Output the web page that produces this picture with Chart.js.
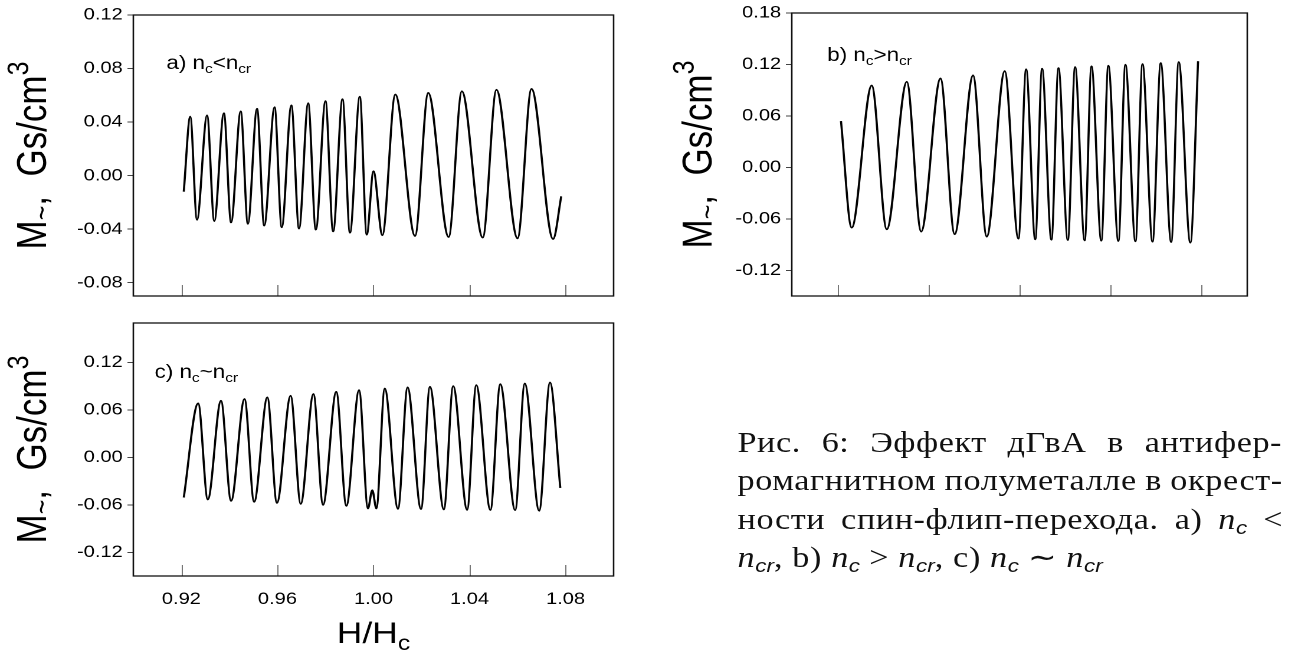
<!DOCTYPE html>
<html lang="ru">
<head>
<meta charset="UTF-8">
<title>Эффект дГвА</title>
<script src="https://cdn.jsdelivr.net/npm/chart.js"></script>
<style>
  html, body { margin: 0; padding: 0; background: #fff; }
  body { width: 1299px; height: 658px; overflow: hidden; position: relative; }
  /* the whole figure is a bit stretched sideways in the original scan */
  #root { position: absolute; left: 0; top: 0; width: 1101px; height: 658px; transform: scaleX(1.18); transform-origin: 0 0; }
  canvas { position: absolute; }
  .cap { position: absolute; left: 625px; top: 423px; width: 462px; font-family: "Liberation Serif", serif; font-size: 29px; letter-spacing: 0.5px; line-height: 38.3px; color: #111; }
  .cap .ln { white-space: nowrap; }
  .cap .ln span { display: inline-block; }
  .cap sub { font-family: "Liberation Sans", sans-serif; font-style: italic; font-size: 0.66em; vertical-align: -0.25em; line-height: 0; letter-spacing: 0; }
</style>
</head>
<body>
<div id="root">
  <canvas id="pa" width="540" height="310" style="left:0;top:0"></canvas>
  <canvas id="pb" width="520" height="310" style="left:560px;top:0"></canvas>
  <canvas id="pc" width="540" height="348" style="left:0;top:310px"></canvas>
  <div class="cap">
    <div class="ln just"><span>Рис. 6: Эффект дГвА в антифер-</span></div>
    <div class="ln just"><span>ромагнитном полуметалле в окрест-</span></div>
    <div class="ln just"><span>ности спин-флип-перехода. a) <i>n</i><sub>c</sub> &lt;</span></div>
    <div class="ln"><span><i>n</i><sub>cr</sub>, b) <i>n</i><sub>c</sub> &gt; <i>n</i><sub>cr</sub>, c) <i>n</i><sub>c</sub> ∼ <i>n</i><sub>cr</sub></span></div>
  </div>
</div>

<script>
// H/Hc ticks shared by all three panels
const xTicks = [0.92, 0.96, 1.00, 1.04, 1.08];

// panel a) nc < ncr : extrema
const aH = [0.921, 0.9237, 0.9265, 0.9307, 0.9337, 0.9377, 0.9407, 0.9447, 0.9477, 0.9515, 0.9545, 0.9588,
            0.9618, 0.9658, 0.969, 0.9728, 0.976, 0.98, 0.9832, 0.9871, 0.9902, 0.9943, 0.9972, 1.0,
            1.0037, 1.0091, 1.0173, 1.0228, 1.0313, 1.0368, 1.0455, 1.0512, 1.06, 1.0658, 1.0748, 1.0782];
const aM = [-0.012, 0.044, -0.033, 0.045, -0.034, 0.0466, -0.035, 0.048, -0.036, 0.0499, -0.0374, 0.051,
            -0.0386, 0.0524, -0.0396, 0.054, -0.0404, 0.0556, -0.0417, 0.057, -0.0426, 0.0589, -0.0441, 0.0032,
            -0.0446, 0.0606, -0.0451, 0.0618, -0.0459, 0.063, -0.0464, 0.0641, -0.0469, 0.0648, -0.0474, -0.0155];
const aTicks = [-0.08, -0.04, 0, 0.04, 0.08, 0.12];

// panel b) nc > ncr
const bH = [0.9216, 0.9263, 0.9351, 0.9417, 0.9505, 0.9568, 0.9653, 0.9715, 0.9796, 0.9856, 0.9935,
            0.9995, 1.0029, 1.0069, 1.0099, 1.014, 1.0171, 1.0212, 1.0244, 1.0286, 1.0316, 1.0359,
            1.039, 1.0434, 1.0465, 1.0509, 1.054, 1.0584, 1.062, 1.0666, 1.0699, 1.075, 1.0784];
const bM = [0.054, -0.0703, 0.0955, -0.0722, 0.0998, -0.0749, 0.1037, -0.078, 0.1072, -0.0807, 0.1122,
            -0.0831, 0.1142, -0.0839, 0.115, -0.0843, 0.1157, -0.0847, 0.1169, -0.0851, 0.1177, -0.0854,
            0.1184, -0.0858, 0.1196, -0.0862, 0.1204, -0.0866, 0.1215, -0.087, 0.1227, -0.0877, 0.1238];
const bTicks = [-0.12, -0.06, 0, 0.06, 0.12, 0.18];

// panel c) nc ~ ncr
const cH = [0.921, 0.927, 0.931, 0.9365, 0.9407, 0.9463, 0.9503, 0.9558, 0.9598, 0.9655, 0.9697, 0.975,
            0.979, 0.9845, 0.9887, 0.994, 0.9977, 0.9995, 1.0012, 1.0047, 1.0102, 1.0142, 1.0198, 1.0235,
            1.0293, 1.0332, 1.039, 1.0428, 1.0487, 1.0528, 1.059, 1.063, 1.069, 1.0735, 1.0778];
const cM = [-0.0507, 0.0683, -0.0532, 0.0717, -0.055, 0.0738, -0.0562, 0.0759, -0.0575, 0.078, -0.0587, 0.0801,
            -0.06, 0.083, -0.0612, 0.0851, -0.0646, -0.0415, -0.0646, 0.0872, -0.065, 0.0885, -0.0654, 0.0893,
            -0.0658, 0.0902, -0.0663, 0.0914, -0.0665, 0.0927, -0.0667, 0.0935, -0.0675, 0.0947, -0.0386];
const cTicks = [-0.12, -0.06, 0, 0.06, 0.12];

// text pieces: [text, font size, baseline shift]
const yTitle = [['M', 35, 0], ['~', 25, 5], [',  Gs/cm', 35, 0], ['3', 25, -15]];
const xTitle = [['H/H', 30, 0], ['c', 21, 7]];
const noteA = [['a) n', 19, 0], ['c', 13, 4], ['<n', 19, 0], ['cr', 13, 4]];
const noteB = [['b) n', 19, 0], ['c', 13, 4], ['>n', 19, 0], ['cr', 13, 4]];
const noteC = [['c) n', 19, 0], ['c', 13, 4], ['~n', 19, 0], ['cr', 13, 4]];

const FONT = '"Liberation Sans", Arial, sans-serif';

// justify caption lines by spreading the word gaps
document.querySelectorAll('.cap .ln.just span').forEach(sp => {
  const gaps = (sp.textContent.match(/ /g) || []).length;
  const extra = 462 - sp.offsetWidth;
  if (gaps) sp.style.wordSpacing = (extra / gaps) + 'px';
});

function drawRich(ctx, parts, x, y, align) {
  let w = 0;
  parts.forEach(p => { ctx.font = p[1] + 'px ' + FONT; w += ctx.measureText(p[0]).width; });
  let cx = align === 'center' ? x - w / 2 : x;
  ctx.textAlign = 'left';
  ctx.textBaseline = 'alphabetic';
  parts.forEach(p => {
    ctx.font = p[1] + 'px ' + FONT;
    ctx.fillText(p[0], cx, y + p[2]);
    cx += ctx.measureText(p[0]).width;
  });
}

const decor = {
  id: 'decor',
  afterDraw(chart, args, o) {
    const { ctx, chartArea: a, scales } = chart;
    ctx.save();
    // x ticks point inward
    ctx.strokeStyle = '#777';
    ctx.lineWidth = 1;
    xTicks.forEach(v => {
      const px = Math.round(scales.x.getPixelForValue(v)) + 0.5;
      ctx.beginPath();
      ctx.moveTo(px, a.bottom);
      ctx.lineTo(px, a.bottom - 11);
      ctx.stroke();
    });
    ctx.strokeStyle = '#111';
    ctx.lineWidth = 1.3;
    ctx.strokeRect(a.left, a.top, a.right - a.left, a.bottom - a.top);

    ctx.fillStyle = '#000';
    ctx.save();
    ctx.translate(o.titleX, (a.top + a.bottom) / 2);
    ctx.rotate(-Math.PI / 2);
    drawRich(ctx, yTitle, 0, 0, 'center');
    ctx.restore();
    drawRich(ctx, o.note, o.noteX, o.noteY, 'left');
    if (o.xTitleY) drawRich(ctx, xTitle, (a.left + a.right) / 2, o.xTitleY, 'center');
    ctx.restore();
  }
};

function makePanel(id, H, M, yMin, yMax, yTicks, lay, deco) {
  return new Chart(document.getElementById(id), {
    type: 'line',
    data: {
      datasets: [{
        data: H.map((h, i) => ({ x: h, y: M[i] })),
        borderColor: '#000',
        borderWidth: 1.8,
        pointRadius: 0,
        fill: false,
        cubicInterpolationMode: 'monotone'
      }]
    },
    options: {
      responsive: false,
      animation: false,
      devicePixelRatio: 2,
      layout: { padding: { top: lay.top, right: lay.right, bottom: 0, left: 0 } },
      plugins: { legend: { display: false }, tooltip: { enabled: false }, decor: deco },
      scales: {
        x: {
          type: 'linear', min: 0.90, max: 1.10,
          afterBuildTicks: s => { s.ticks = xTicks.map(v => ({ value: v })); },
          ticks: { display: lay.showX, color: '#000', font: { family: FONT, size: 17 }, padding: 13, maxRotation: 0,
                   callback: v => v.toFixed(2) },
          grid: { display: false, drawTicks: false },
          border: { display: false },
          afterFit: s => { s.height = lay.xH; s.paddingLeft = 0; s.paddingRight = 0; }
        },
        y: {
          type: 'linear', min: yMin, max: yMax,
          afterBuildTicks: s => { s.ticks = yTicks.map(v => ({ value: v })); },
          ticks: { color: '#000', font: { family: FONT, size: 17 }, padding: 4, callback: v => v.toFixed(2) },
          grid: { drawOnChartArea: false, drawTicks: true, tickLength: 5, color: '#444' },
          border: { display: false },
          afterFit: s => { s.width = lay.yW; s.paddingTop = 0; s.paddingBottom = 0; }
        }
      }
    },
    plugins: [decor]
  });
}

makePanel('pa', aH, aM, -0.09, 0.12, aTicks,
  { top: 15, right: 20, xH: 14, yW: 113, showX: false },
  { titleX: 39, note: noteA, noteX: 141, noteY: 69 });
makePanel('pb', bH, bM, -0.15, 0.18, bTicks,
  { top: 13, right: 23, xH: 14, yW: 111, showX: false },
  { titleX: 43, note: noteB, noteX: 141, noteY: 61 });
makePanel('pc', cH, cM, -0.15, 0.17, cTicks,
  { top: 13, right: 20, xH: 82, yW: 113, showX: true },
  { titleX: 39, note: noteC, noteX: 131, noteY: 68, xTitleY: 333 });
</script>
</body>
</html>
